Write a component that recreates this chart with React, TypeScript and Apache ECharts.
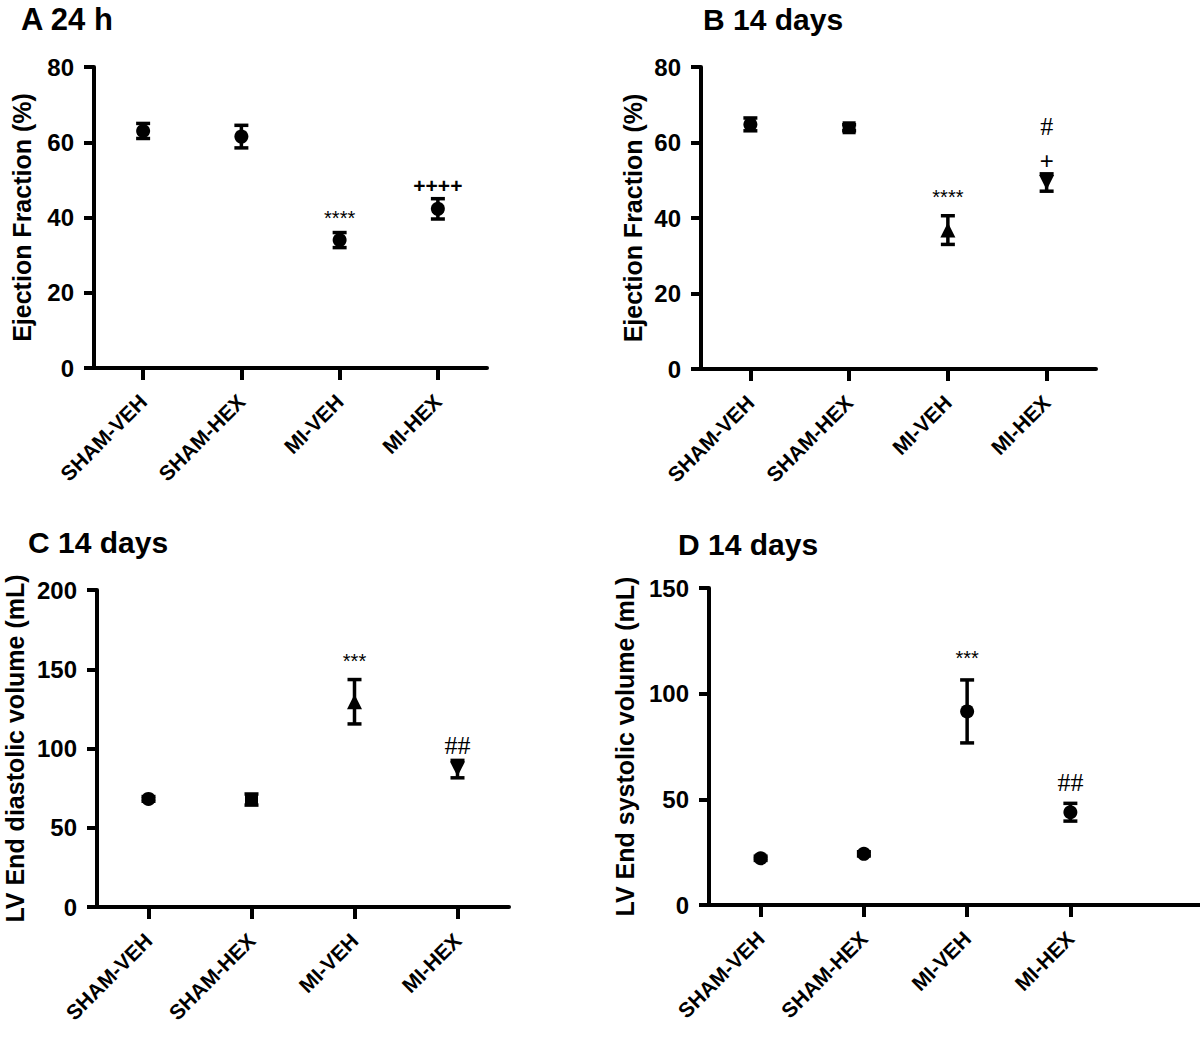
import { useEffect, useRef } from "react";
import * as echarts from "echarts";

// ---- data ----
const categories = ["SHAM-VEH", "SHAM-HEX", "MI-VEH", "MI-HEX"];

const efMean24h = [63.0, 61.5, 34.0, 42.3];
const efSem24h = [2.0, 3.0, 2.0, 2.7];
const efMean14d = [64.8, 63.9, 36.8, 49.4];
const efSem14d = [1.7, 0.8, 3.8, 2.3];
const edvMean = [68.2, 67.8, 129.5, 87.0];
const edvSem = [1.5, 3.5, 14.0, 5.5];
const esvMean = [22.1, 24.2, 91.6, 43.9];
const esvSem = [1.0, 1.0, 14.9, 4.2];

const annoA = ["", "", "****", "++++"];
const annoB = ["", "", "****", "+"];
const annoB2 = ["", "", "", "#"];
const annoC = ["", "", "***", "##"];
const annoD = ["", "", "***", "##"];
const noAnno = ["", "", "", ""];

const yTicksEF = { max: 80, interval: 20 };
const yTicksEDV = { max: 200, interval: 50 };
const yTicksESV = { max: 150, interval: 50 };

const DOWN = "path://M0,0 L10,0 L5,10 Z";
const symA = ["circle", "circle", "circle", "circle"];
const symB = ["circle", "rect", "triangle", DOWN];
const symC = ["circle", "rect", "triangle", DOWN];
const symD = ["circle", "circle", "circle", "circle"];

// ---- styling ----
const SANS = "'Liberation Sans', Arial, sans-serif";
const SERIF = "'Liberation Serif', 'Times New Roman', serif";

const panels = [
  { title: "A 24 h", tx: 21, ty: 4, yName: "Ejection Fraction (%)", ticks: yTicksEF, mean: efMean24h, sem: efSem24h, sym: symA, anno: annoA, annoOff: [0, 0, 17, 12], anno2: noAnno, anno2Off: 0, nameGap: 60, grid: { left: 94, top: 67, width: 393, height: 301 } },
  { title: "B 14 days", tx: 703, ty: 4, yName: "Ejection Fraction (%)", ticks: yTicksEF, mean: efMean14d, sem: efSem14d, sym: symB, anno: annoB, annoOff: [0, 0, 21, 12], anno2: annoB2, anno2Off: 47, nameGap: 56, grid: { left: 701, top: 67, width: 395, height: 302 } },
  { title: "C 14 days", tx: 28, ty: 527, yName: "LV End diastolic volume (mL)", ticks: yTicksEDV, mean: edvMean, sem: edvSem, sym: symC, anno: annoC, annoOff: [0, 0, 21, 15], anno2: noAnno, anno2Off: 0, nameGap: 70, grid: { left: 97, top: 590, width: 412, height: 317 } },
  { title: "D 14 days", tx: 678, ty: 529, yName: "LV End systolic volume (mL)", ticks: yTicksESV, mean: esvMean, sem: esvSem, sym: symD, anno: annoD, annoOff: [0, 0, 24, 21], anno2: noAnno, anno2Off: 0, nameGap: 72, grid: { left: 709, top: 588, width: 413, height: 317 } },
];

function annoStyle(t: string) {
  if (t.startsWith("#")) return { fontFamily: SERIF, fontSize: 26, fontWeight: "normal" };
  if (t.length > 1 && t.startsWith("+")) return { fontFamily: SANS, fontSize: 21, fontWeight: "bold" };
  if (t.startsWith("+")) return { fontFamily: SANS, fontSize: 24, fontWeight: "normal" };
  return { fontFamily: SANS, fontSize: 20, fontWeight: "normal" };
}

function glyphShift(t: string) {
  if (t.startsWith("*")) return 2;
  if (t.startsWith("+")) return -1;
  return 0;
}

function makeRender(anno: string[], annoOff: number[], anno2: string[], anno2Off: number) {
  return (params: any, api: any) => {
    const i = api.value(0);
    const m = api.value(1);
    const s = api.value(2);
    const top = api.coord([i, m + s]);
    const bot = api.coord([i, m - s]);
    const cap = 7;
    const ls = { stroke: "#000", lineWidth: 3.5 };
    const children: any[] = [
      { type: "line", shape: { x1: top[0], y1: top[1], x2: bot[0], y2: bot[1] }, style: ls },
      { type: "line", shape: { x1: top[0] - cap, y1: top[1], x2: top[0] + cap, y2: top[1] }, style: ls },
      { type: "line", shape: { x1: bot[0] - cap, y1: bot[1], x2: bot[0] + cap, y2: bot[1] }, style: ls },
    ];
    const t = anno[i];
    if (t) {
      children.push({
        type: "text",
        x: top[0],
        y: top[1] - annoOff[i] + glyphShift(t),
        style: { text: t, fill: "#000", ...annoStyle(t), textAlign: "center", textVerticalAlign: "middle" },
      });
    }
    const t2 = anno2[i];
    if (t2) {
      children.push({
        type: "text",
        x: top[0],
        y: top[1] - anno2Off + glyphShift(t2),
        style: { text: t2, fill: "#000", ...annoStyle(t2), textAlign: "center", textVerticalAlign: "middle" },
      });
    }
    return { type: "group", children };
  };
}

export default function App() {
  const ref = useRef<HTMLDivElement>(null);
  useEffect(() => {
    if (!ref.current) return;
    const chart = echarts.init(ref.current, null, { renderer: "svg" });
    const grids = panels.map((p) => ({ ...p.grid, containLabel: false }));
    const xAxes = panels.map((p, k) => ({
      type: "category",
      gridIndex: k,
      data: categories,
      axisLine: { show: true, lineStyle: { color: "#000", width: 4 } },
      axisTick: { show: true, alignWithLabel: true, length: 12, lineStyle: { color: "#000", width: 4 } },
      axisLabel: { interval: 0, rotate: 45, margin: 30, color: "#000", fontSize: 21, fontWeight: "bold", fontFamily: SANS },
      splitLine: { show: false },
    }));
    const yAxes = panels.map((p, k) => ({
      type: "value",
      gridIndex: k,
      min: 0,
      max: p.ticks.max,
      interval: p.ticks.interval,
      axisLine: { show: true, lineStyle: { color: "#000", width: 4 } },
      axisTick: { show: true, length: 10, lineStyle: { color: "#000", width: 4 } },
      axisLabel: { margin: 20, color: "#000", fontSize: 24, fontWeight: "bold", fontFamily: SANS },
      splitLine: { show: false },
      name: p.yName,
      nameLocation: "middle",
      nameGap: p.nameGap,
      nameTextStyle: { color: "#000", fontSize: 25, fontWeight: "bold", fontFamily: SANS },
    }));
    const series: any[] = [];
    panels.forEach((p, k) => {
      series.push({
        type: "custom",
        xAxisIndex: k,
        yAxisIndex: k,
        renderItem: makeRender(p.anno, p.annoOff, p.anno2, p.anno2Off),
        encode: { x: 0, y: 1 },
        data: categories.map((c, i) => [i, p.mean[i], p.sem[i]]),
        z: 2,
        silent: true,
      });
      series.push({
        type: "scatter",
        xAxisIndex: k,
        yAxisIndex: k,
        data: categories.map((c, i) => ({
          value: [i, p.mean[i]],
          symbol: p.sym[i],
          symbolSize: p.sym[i] === "circle" ? 14 : p.sym[i] === "rect" ? 13 : 15,
        })),
        itemStyle: { color: "#000", opacity: 1 },
        z: 3,
        silent: true,
      });
    });
    const dGrid = panels[3].grid;
    chart.setOption({
      animation: false,
      backgroundColor: "#fff",
      title: panels.map((p, k) => ({
        text: p.title,
        left: p.tx,
        top: p.ty,
        padding: 0,
        textStyle: { color: "#000", fontSize: k === 0 ? 31 : 30, fontWeight: "bold", fontFamily: SANS },
      })),
      grid: grids,
      xAxis: xAxes,
      yAxis: yAxes,
      series,
      graphic: [
        {
          type: "line",
          shape: { x1: dGrid.left + dGrid.width, y1: dGrid.top + dGrid.height, x2: 1200, y2: dGrid.top + dGrid.height },
          style: { stroke: "#000", lineWidth: 4 },
        },
      ],
    });
    return () => chart.dispose();
  }, []);
  return <div ref={ref} style={{ position: "absolute", left: 0, top: 0, width: 1200, height: 1037 }} />;
}
